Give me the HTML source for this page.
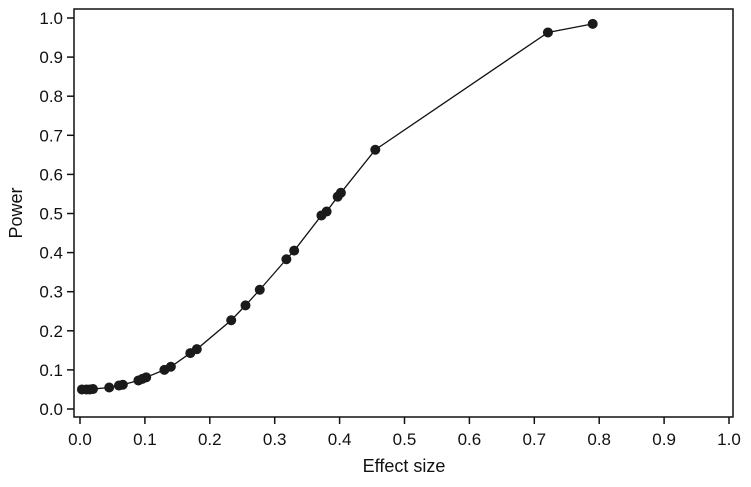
<!DOCTYPE html>
<html><head><meta charset="utf-8"><style>
html,body{margin:0;padding:0;background:#fff;}
svg text{font-family:"Liberation Sans",sans-serif;fill:#111;}
</style></head><body>
<svg id="chart" width="751" height="482" xmlns="http://www.w3.org/2000/svg">
<rect x="74" y="9" width="659" height="408" fill="none" stroke="#111" stroke-width="1.5"/>
<g id="ticks"></g>
<path id="line" fill="none" stroke="#111" stroke-width="1.3"/>
<g id="pts"></g>
<text x="404" y="472" font-size="18" text-anchor="middle">Effect size</text>
<text transform="translate(22,213) rotate(-90)" font-size="18" text-anchor="middle">Power</text>
</svg>
<script>
const effectSizes=[0.003,0.01,0.015,0.02,0.045,0.06,0.066,0.09,0.096,0.102,0.13,0.14,0.17,0.18,0.233,0.255,0.277,0.318,0.33,0.372,0.38,0.397,0.402,0.455,0.721,0.79];
const powerValues=[0.05,0.05,0.05,0.051,0.055,0.06,0.062,0.073,0.077,0.081,0.1,0.108,0.143,0.153,0.227,0.265,0.305,0.383,0.405,0.495,0.505,0.543,0.553,0.663,0.963,0.985];
const xTicks=[0,0.1,0.2,0.3,0.4,0.5,0.6,0.7,0.8,0.9,1.0];
const yTicks=[0,0.1,0.2,0.3,0.4,0.5,0.6,0.7,0.8,0.9,1.0];
const NS="http://www.w3.org/2000/svg";
function xs(v){return 80+v*649;}
function ys(v){return 409-v*391;}
const tg=document.getElementById('ticks');
function mk(tag,attrs,parent){const e=document.createElementNS(NS,tag);for(const k in attrs)e.setAttribute(k,attrs[k]);parent.appendChild(e);return e;}
xTicks.forEach(t=>{
  const l=mk('line',{x1:xs(t),x2:xs(t),y1:417,y2:424,stroke:'#111','stroke-width':1.5},tg);
  
  
  const tx=mk('text',{x:xs(t),y:445,'font-size':17,'text-anchor':'middle'},tg);
  tx.textContent=t.toFixed(1);
  
  
});
yTicks.forEach(t=>{
  const l=mk('line',{x1:67,x2:74,y1:ys(t),y2:ys(t),stroke:'#111','stroke-width':1.5},tg);
  
  
  const tx=mk('text',{x:63,y:ys(t)+6,'font-size':17,'text-anchor':'end'},tg);
  tx.textContent=t.toFixed(1);
  
  
});
document.getElementById('line').setAttribute('d',effectSizes.map((v,i)=>(i?'L':'M')+xs(v)+','+ys(powerValues[i])).join(''));
const pg=document.getElementById('pts');
effectSizes.forEach((v,i)=>{
  const c=mk('circle',{cx:xs(v),cy:ys(powerValues[i]),r:5,fill:'#1a1a1a'},pg);
  
  
});
</script>
</body></html>
